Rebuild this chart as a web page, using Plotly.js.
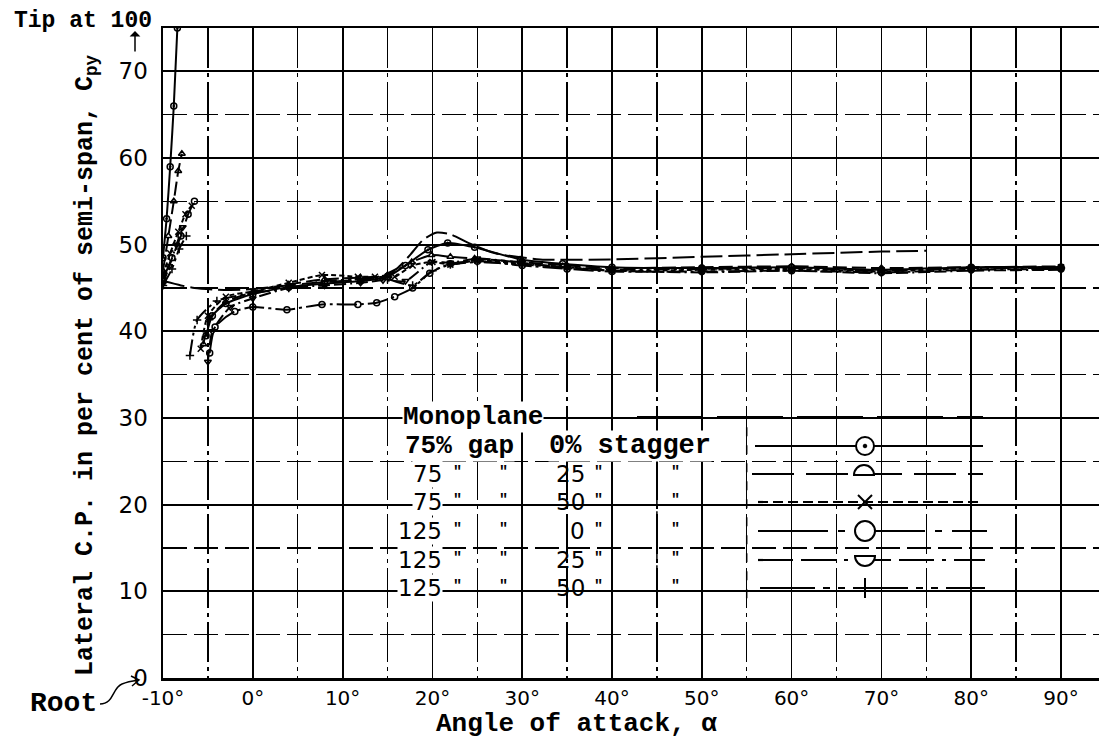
<!DOCTYPE html>
<html><head><meta charset="utf-8">
<script src="https://cdn.plot.ly/plotly-3.0.1.min.js"></script>
<style>body{margin:0;background:#fff}#chart{width:1099px;height:741px}</style>
</head><body><div id="chart"></div>
<script>
// ---------- data (angle of attack in degrees, lateral C.P. in % of semi-span) ----------
const xTickValues = [-10, 0, 10, 20, 30, 40, 50, 60, 70, 80, 90];
const xTickLabels = ['-10°', '0°', '10°', '20°', '30°', '40°', '50°', '60°', '70°', '80°', '90°'];
const yTickValues = [0, 10, 20, 30, 40, 50, 60, 70];
const yTickLabels = ['0', '10', '20', '30', '40', '50', '60', '70'];

const monoX = [-10, -8, -6.5, -4, -1, 3, 7, 11, 14, 16, 17.5, 19, 20.5, 22, 24, 27, 32, 40, 50, 60, 70, 75];
const monoY = [45.8, 45.3, 45.0, 44.8, 44.8, 45.2, 45.6, 45.9, 46.3, 47.2, 48.8, 50.6, 51.4, 51.2, 50.2, 49.0, 48.3, 48.3, 48.6, 48.9, 49.2, 49.3];

const g75s0X  = [-10, -9.6, -9.2, -8.8, -8.4, null, -5.2, -4.5, -3, 0, 4, 8, 12, 15, 17, 19.5, 21.7, 24.7, 29.8, 34.5, 40, 50, 60, 70, 80, 90];
const g75s0Y  = [48.5, 53, 59, 66, 75, null, 39.5, 41.8, 43.2, 44.3, 45.1, 45.5, 45.8, 46.3, 47.6, 49.4, 50.2, 49.7, 48.3, 47.8, 47.4, 47.3, 47.4, 47.1, 47.4, 47.4];

const g75s25X = [-10, -9.4, -8.8, -8.3, -7.9, null, -5.5, -4.8, -3, 0, 4, 8, 12, 15, 17.7, 19.9, 22, 24.7, 29.8, 35, 40, 50, 60, 70, 80, 90];
const g75s25Y = [47, 51, 55, 58.5, 60.5, null, 38.5, 41.5, 43.4, 44.5, 45.4, 46.0, 46.2, 46.5, 48.0, 48.8, 48.6, 48.4, 48.0, 47.6, 47.3, 47.4, 47.5, 47.3, 47.4, 47.5];

const g75s50X = [-10, -9.2, -8.3, -7.5, -6.8, null, -5.8, -5, -3, 0, 4, 7.7, 11.7, 13.6, 15.8, 17.8, 20, 22, 25, 30, 35, 40, 50, 60, 70, 80, 90];
const g75s50Y = [46.5, 49, 51.5, 53.5, 54.5, null, 38, 41.8, 44.0, 44.6, 45.6, 46.5, 46.3, 46.3, 46.3, 47.6, 48.0, 47.7, 48.2, 47.8, 47.4, 47.0, 47.1, 47.2, 46.9, 47.3, 47.4];

const g125s0X = [-10, -9, -8, -7.2, -6.5, null, -4.8, -4.2, -2, 0, 3.8, 7.7, 11.7, 13.8, 15.8, 17.8, 19.7, 22, 25, 30, 35, 40, 50, 60, 70, 80, 90];
const g125s0Y = [46, 48.5, 51, 53.5, 55, null, 37.5, 40.5, 42.3, 42.8, 42.5, 43.1, 43.1, 43.3, 44.0, 45.0, 46.7, 47.8, 48.1, 47.6, 47.2, 46.9, 46.9, 47.0, 46.8, 47.1, 47.2];

const g125s25X = [-10, -9.3, -8.5, -7.8, null, -5, -4.5, -2.5, 0, 4, 8, 12, 14.5, 17, 19.9, 22, 25, 30, 35, 40, 50, 60, 70, 80, 90];
const g125s25Y = [45.5, 47.5, 50, 52, null, 36.5, 40, 42.8, 43.8, 45.0, 45.3, 45.6, 45.9, 45.8, 48.0, 47.9, 48.4, 47.9, 47.3, 47.0, 46.8, 47.0, 46.7, 47.0, 47.1];

const g125s50X = [-10, -9, -8.2, -7.4, null, -7, -6.2, -4, 0, 4, 8, 12, 15, 17.8, 20, 22, 25, 30, 35, 40, 50, 60, 70, 80, 90];
const g125s50Y = [45.3, 47.2, 49.5, 51, null, 37.2, 41.3, 43.5, 44.4, 45.0, 45.8, 46.0, 46.0, 45.3, 47.0, 47.7, 48.0, 47.7, 47.4, 47.1, 47.2, 47.3, 47.0, 47.3, 47.3];

const legendGap     = ['75', '75', '125', '125', '125'];
const legendStagger = ['25', '50', '0', '25', '50'];

// ---------- layout helpers (pixel -> paper) ----------
const L = 163, R = 1099, T = 28, B = 678;
const fx = x => (x - L) / (R - L);
const fy = y => (B - y) / (B - T);
const SERIF = 'Liberation Mono, Courier New, monospace';
const NUM = 'DejaVu Sans, sans-serif';

function trace(x, y, dash, symbol, name) {
  return {
    x: x, y: y, name: name, type: 'scatter', mode: 'lines+markers', connectgaps: false,
    line: {color: 'black', width: 2, dash: dash, shape: 'spline', smoothing: 0.6},
    marker: {symbol: symbol, size: 6, color: 'black', line: {color: 'black', width: 1.5}},
    showlegend: false, hoverinfo: 'x+y'
  };
}

const data = [
  {x: monoX, y: monoY, type: 'scatter', mode: 'lines', showlegend: false,
   line: {color: 'black', width: 2, dash: '22px,6px', shape: 'spline', smoothing: 0.6}},
  trace(g75s0X, g75s0Y, 'solid', 'circle-open-dot', '75% gap 0% stagger'),
  trace(g75s25X, g75s25Y, '14px,5px', 'triangle-up-open', '75 gap 25 stagger'),
  trace(g75s50X, g75s50Y, '5px,3px', 'x-thin-open', '75 gap 50 stagger'),
  trace(g125s0X, g125s0Y, '20px,4px,3px,4px', 'circle-open', '125 gap 0 stagger'),
  trace(g125s25X, g125s25Y, '12px,4px,12px,4px,2px,4px', 'triangle-down-open', '125 gap 25 stagger'),
  trace(g125s50X, g125s50Y, '16px,4px,3px,4px,3px,4px', 'cross-thin-open', '125 gap 50 stagger')
];

// ---------- legend drawn as shapes/annotations ----------
const shapes = [];
const annotations = [];
const rowsY = [417, 446, 474, 502, 531, 560, 588];

shapes.push({type: 'rect', layer: 'between', xref: 'paper', yref: 'paper',
  x0: fx(556), x1: fx(1099), y0: fy(598), y1: fy(425), fillcolor: 'white', line: {width: 0}});
[[45, 'dashdot'], [50, 'solid'], [55, 'dash']].forEach(([gx, d]) => {
  shapes.push({type: 'line', layer: 'between', xref: 'x', yref: 'y', x0: gx, x1: gx, y0: 9.2, y1: 29.5,
    line: {color: 'black', width: 1.5, dash: d}});
});

function hline(x0, x1, y, dash) {
  shapes.push({type: 'path', xref: 'paper', yref: 'paper',
    path: 'M ' + fx(x0) + ',' + fy(y) + ' L ' + fx(x1) + ',' + fy(y),
    line: {color: 'black', width: 2.2, dash: dash}});
}
function pathPx(pts) {
  return pts.map(p => p[0] + ' ' + p.slice(1).map((v, i) => i % 2 === 0 ? fx(v) : fy(v)).join(',')).join(' ');
}
shapes.push({type: 'rect', layer: 'between', xref: 'paper', yref: 'paper',
  x0: fx(560), x1: fx(1099), y0: fy(424), y1: fy(410), fillcolor: 'white', line: {width: 0}});
hline(637, 983, rowsY[0], '66px,14px');
hline(755, 983, rowsY[1], 'solid');
hline(752, 983, rowsY[2], '42px,12px');
hline(758, 983, rowsY[3], '10px,5px');
hline(758, 987, rowsY[4], '70px,10px,7px,10px');
hline(758, 985, rowsY[5], '35px,8px,35px,8px,4px,8px');
hline(760, 985, rowsY[6], '55px,8px,7px,8px,7px,8px');

const mx = 865, k = 0.5523;
shapes.push({type: 'circle', xref: 'paper', yref: 'paper', x0: fx(mx - 9), x1: fx(mx + 9), y0: fy(rowsY[1] + 9), y1: fy(rowsY[1] - 9),
  fillcolor: 'white', line: {color: 'black', width: 2}});
shapes.push({type: 'circle', xref: 'paper', yref: 'paper', x0: fx(mx - 1.8), x1: fx(mx + 1.8), y0: fy(rowsY[1] + 1.8), y1: fy(rowsY[1] - 1.8),
  fillcolor: 'black', line: {color: 'black', width: 1}});
(function () {
  const r = 10, cy = rowsY[2] + 1, cx = mx - 1;
  shapes.push({type: 'path', xref: 'paper', yref: 'paper', fillcolor: 'white', line: {color: 'black', width: 2},
    path: pathPx([['M', cx - r, cy], ['C', cx - r, cy - k * r, cx - k * r, cy - r, cx, cy - r],
                  ['C', cx + k * r, cy - r, cx + r, cy - k * r, cx + r, cy]]) + ' Z'});
})();
shapes.push({type: 'line', xref: 'paper', yref: 'paper', x0: fx(mx - 7), x1: fx(mx + 7), y0: fy(rowsY[3] - 7), y1: fy(rowsY[3] + 7), line: {color: 'black', width: 2}});
shapes.push({type: 'line', xref: 'paper', yref: 'paper', x0: fx(mx - 7), x1: fx(mx + 7), y0: fy(rowsY[3] + 7), y1: fy(rowsY[3] - 7), line: {color: 'black', width: 2}});
shapes.push({type: 'circle', xref: 'paper', yref: 'paper', x0: fx(mx - 10), x1: fx(mx + 10), y0: fy(rowsY[4] + 10), y1: fy(rowsY[4] - 10),
  fillcolor: 'white', line: {color: 'black', width: 2}});
(function () {
  const r = 10, cy = rowsY[5] - 4, cx = mx;
  shapes.push({type: 'path', xref: 'paper', yref: 'paper', fillcolor: 'white', line: {color: 'black', width: 2},
    path: pathPx([['M', cx - r, cy], ['L', cx + r, cy], ['C', cx + r, cy + k * r, cx + k * r, cy + r, cx, cy + r],
                  ['C', cx - k * r, cy + r, cx - r, cy + k * r, cx - r, cy]]) + ' Z'});
})();
shapes.push({type: 'line', xref: 'paper', yref: 'paper', x0: fx(mx), x1: fx(mx), y0: fy(rowsY[6] - 10), y1: fy(rowsY[6] + 10), line: {color: 'black', width: 2}});
shapes.push({type: 'line', xref: 'paper', yref: 'paper', x0: fx(mx - 10), x1: fx(mx + 10), y0: fy(rowsY[6]), y1: fy(rowsY[6]), line: {color: 'black', width: 2}});

shapes.push({type: 'path', xref: 'paper', yref: 'paper', line: {color: 'black', width: 1.5},
  path: pathPx([['M', 100, 704], ['C', 114, 704, 112, 688, 122, 684], ['C', 127, 682, 132, 681, 138, 680]])});
shapes.push({type: 'path', xref: 'paper', yref: 'paper', line: {color: 'black', width: 1.5},
  path: pathPx([['M', 131, 676], ['L', 139, 680], ['L', 132, 686]])});

function txt(x, y, text, font, size, anchor, bg, weight) {
  annotations.push({xref: 'paper', yref: 'paper', x: fx(x), y: fy(y), text: text, showarrow: false,
    xanchor: anchor || 'left', yanchor: 'middle', bgcolor: bg ? 'white' : 'rgba(0,0,0,0)', borderpad: 0,
    font: {family: font, size: size, color: 'black', weight: weight || 'normal'}});
}
txt(402, rowsY[0], 'Monoplane', SERIF, 26, 'left', true, 'bold');
txt(404, rowsY[1], '75% gap', SERIF, 26, 'left', true, 'bold');
txt(548, rowsY[1], '0% stagger', SERIF, 27, 'left', true, 'bold');
for (let i = 0; i < legendGap.length; i++) {
  const y = rowsY[i + 2];
  txt(443, y, legendGap[i], NUM, 23, 'right', true);
  txt(457, y - 2, '"', SERIF, 15, 'center', false, 'bold');
  txt(503, y - 2, '"', SERIF, 15, 'center', false, 'bold');
  txt(586, y, legendStagger[i], NUM, 23, 'right', false);
  txt(598, y - 2, '"', SERIF, 15, 'center', false, 'bold');
  txt(675, y - 2, '"', SERIF, 15, 'center', false, 'bold');
}

txt(83, 21, 'Tip at 100', SERIF, 23, 'center', false, 'bold');
annotations.push({xref: 'paper', yref: 'paper', x: fx(135), y: fy(31), ax: 0, ay: 22, text: '', showarrow: true,
  arrowhead: 1, arrowsize: 1.2, arrowwidth: 1.5, arrowcolor: 'black'});
txt(63, 703, 'Root', SERIF, 28, 'center', false, 'bold');
annotations.push({xref: 'paper', yref: 'paper', x: fx(86), y: fy(365), textangle: -90, showarrow: false,
  text: 'Lateral C.P. in per cent of semi-span, C<sub>py</sub>', xanchor: 'center', yanchor: 'middle',
  font: {family: SERIF, size: 25, color: 'black', weight: 'bold'}});
annotations.push({xref: 'paper', yref: 'paper', x: fx(576), y: fy(724), showarrow: false,
  text: 'Angle of attack, α', xanchor: 'center', yanchor: 'middle',
  font: {family: SERIF, size: 26, color: 'black', weight: 'bold'}});

const layout = {
  width: 1099, height: 741,
  margin: {l: L, r: 1099 - R, t: T, b: 741 - B, pad: 0},
  paper_bgcolor: 'white', plot_bgcolor: 'white',
  showlegend: false,
  xaxis: {
    range: [-10, -10 + (R - L) / 8.98], tickmode: 'array', tickvals: xTickValues, ticktext: xTickLabels,
    showgrid: true, gridcolor: 'black', gridwidth: 1.8, zeroline: false,
    minor: {tickmode: 'linear', tick0: -5, dtick: 10, showgrid: true, gridcolor: 'black', gridwidth: 1.5, griddash: '40px,5px,4px,5px'},
    showline: true, linecolor: 'black', linewidth: 2.5, mirror: true, ticks: '',
    tickfont: {family: NUM, size: 20, color: 'black'}, ticklabelstandoff: 0
  },
  yaxis: {
    range: [0, 75], tickmode: 'array', tickvals: yTickValues, ticktext: yTickLabels,
    showgrid: true, gridcolor: 'black', gridwidth: 1.8, zeroline: false,
    minor: {tickmode: 'linear', tick0: 5, dtick: 10, showgrid: true, gridcolor: 'black', gridwidth: 1.5, griddash: '24px,7px'},
    showline: true, linecolor: 'black', linewidth: 2.5, mirror: false, ticks: '',
    tickfont: {family: NUM, size: 23, color: 'black'}, ticklabelstandoff: 8
  },
  shapes: shapes,
  annotations: annotations
};

Plotly.newPlot('chart', data, layout, {displayModeBar: false, staticPlot: true});
</script>
</body></html>
